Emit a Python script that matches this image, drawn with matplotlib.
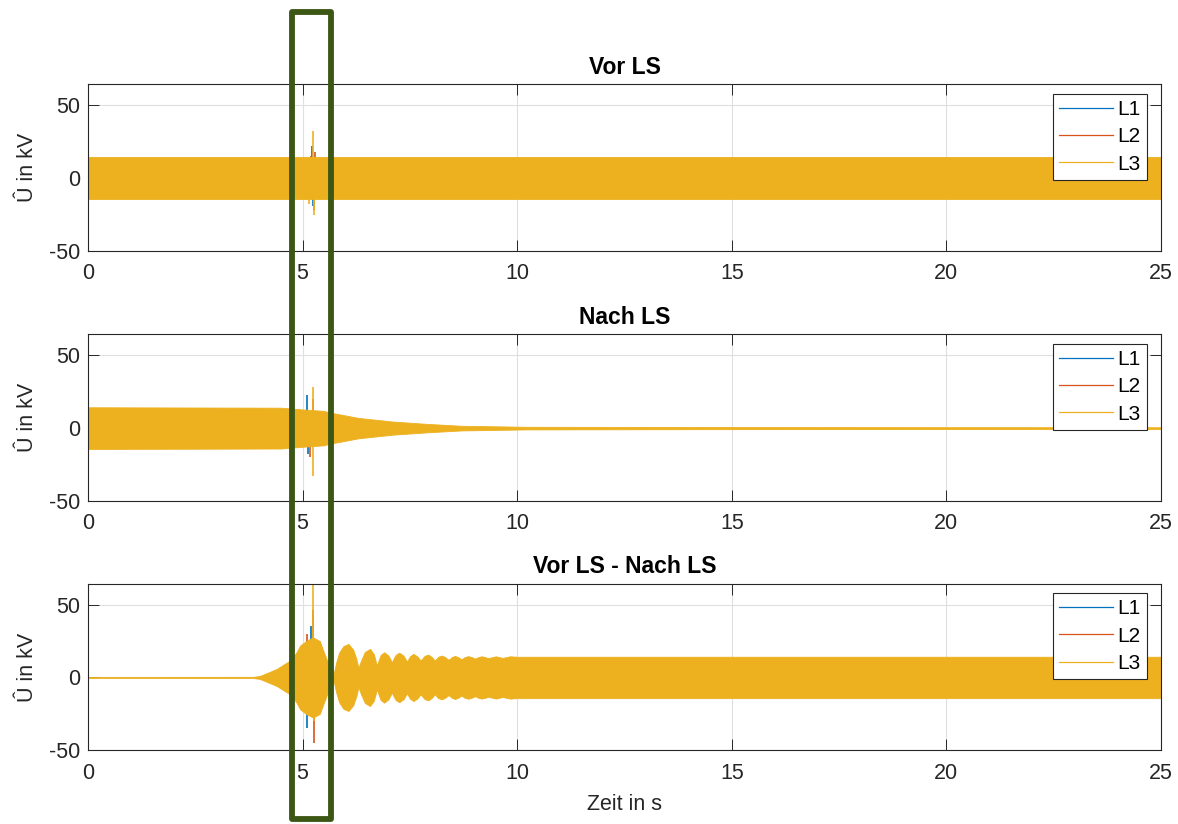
import numpy as np
import matplotlib.pyplot as plt
from matplotlib.patches import Rectangle
from matplotlib.lines import Line2D

plt.rcParams["font.family"] = ["Liberation Sans", "DejaVu Sans"]
plt.rcParams["axes.unicode_minus"] = False

# ── Daten ────────────────────────────────────────────────────────────────────
titles = ["Vor LS", "Nach LS", "Vor LS - Nach LS"]
phases = ["L1", "L2", "L3"]
colors = ["#0072BD", "#D95319", "#EDB120"]
xticks = [0, 5, 10, 15, 20, 25]
yticks = [-50, 0, 50]

# Hüllkurve (Amplitude in kV) der drei Phasen
vor_t = [0, 25]
vor_amp = [14.4, 14.4]

nach_t = [0, 4.5, 5.0, 5.5, 5.6, 6.3, 7.1, 7.9, 8.7, 10.2, 15, 25]
nach_amp = [14.3, 14.0, 12.8, 11.8, 10.9, 7.0, 4.5, 2.9, 1.6, 0.9, 0.7, 0.6]

diff_t = [0, 3.85, 4.0, 4.16, 4.4, 4.56, 4.71, 4.86, 4.94, 5.09, 5.24, 5.4,
          5.5, 5.62, 5.72, 5.78, 5.85, 5.95, 6.07, 6.18, 6.25, 6.30, 6.36,
          6.45, 6.57, 6.66, 6.73, 6.78, 6.82, 6.90, 7.0, 7.08, 7.13, 7.17,
          7.25, 7.35, 7.43, 7.5, 7.58, 7.67, 7.75, 7.84, 7.93, 8.01, 8.08,
          8.16, 8.24, 8.32, 8.40, 8.48, 8.55, 8.63, 8.70, 8.78, 8.86, 8.94,
          9.02, 9.10, 9.17, 9.25, 9.32, 9.5, 9.66, 9.83, 10.0, 25]
diff_amp = [0.3, 0.4, 1.0, 2.9, 5.9, 8.9, 11.6, 17.3, 21.8, 25.2, 27.5, 25.0,
            17.0, 8.0, 2.0, 10.0, 17.0, 21.5, 23.0, 19.0, 13.0, 6.6, 11.5,
            17.5, 19.6, 16.0, 8.2, 12.5, 15.5, 17.3, 15.0, 10.4, 13.5, 15.5,
            17.0, 15.0, 10.9, 14.5, 16.2, 14.5, 11.6, 14.8, 15.7, 14.0, 11.6,
            14.2, 15.0, 14.0, 12.1, 14.0, 14.8, 13.8, 12.5, 14.0, 14.6, 13.9,
            12.9, 14.0, 14.5, 14.0, 13.2, 14.5, 13.4, 14.5, 14.2, 14.2]

# Einzelne Spitzen (Zeit in s, Scheitelwert in kV) je Phase
spikes = [
    {"L1": ([5.10, 5.22, 5.25], [10, 22, -19]),
     "L2": ([5.20, 5.27, 5.30], [15, -22, 18]),
     "L3": ([5.15, 5.24, 5.26], [-18, 32, -25])},
    {"L1": ([5.10, 5.13], [23, -18]),
     "L2": ([5.17, 5.25], [-20, 20]),
     "L3": ([5.24, 5.25], [28, -33])},
    {"L1": ([5.10, 5.20], [-35, 35]),
     "L2": ([5.10, 5.24, 5.26], [30, 46, -45]),
     "L3": ([5.24, 5.27], [64, -30])},
]
envelopes = [(vor_t, vor_amp), (nach_t, nach_amp), (diff_t, diff_amp)]

# ── Figure & Axes ─────────────────────────────────────────────────────────────
fig = plt.figure(figsize=(11.78, 8.24), dpi=100)
bottoms = [0.6954, 0.3920, 0.0894]
axes = [fig.add_axes([0.0747, b, 0.9109, 0.2022]) for b in bottoms]

for i, ax in enumerate(axes):
    t, amp = envelopes[i]
    t = np.array(t)
    amp = np.array(amp)
    for ph, c in zip(phases, colors):
        st, sv = spikes[i][ph]
        ax.vlines(st, 0, sv, color=c, lw=1.2, zorder=1.5)
    # L3 wird zuletzt gezeichnet und überdeckt L1/L2 innerhalb des Bandes
    ax.fill_between(t, -amp, amp, color=colors[2], lw=0.6, zorder=2)

    ax.set_xlim(0, 25)
    ax.set_ylim(-50, 64.3)
    ax.set_xticks(xticks)
    ax.set_yticks(yticks)
    ax.grid(True, color="#dfdfdf", lw=0.8, zorder=0)
    ax.set_axisbelow(True)
    ax.tick_params(direction="in", length=7.7, width=0.7, top=True, right=True,
                   labelsize=15.5, colors="#262626")
    ax.tick_params(axis="x", pad=9)
    ax.tick_params(axis="y", pad=5.5)
    for s in ax.spines.values():
        s.set_color("#262626")
        s.set_linewidth(0.8)
    ax.set_title(titles[i], fontsize=16.5, fontweight="bold", pad=7.5)
    ax.set_ylabel("Û in kV", fontsize=15.5, color="#262626")
    ax.yaxis.set_label_coords(-0.0466, 0.5)

    handles = [Line2D([], [], color=c, lw=0.9, label=ph)
               for ph, c in zip(phases, colors)]
    leg = ax.legend(handles=handles, loc="upper right",
                    bbox_to_anchor=(1 - 14 / 1073, 1 - 9.5 / 167),
                    borderaxespad=0, fontsize=15, handlelength=2.6,
                    handletextpad=0.2, labelspacing=0.4, fancybox=False,
                    framealpha=1, edgecolor="#262626", borderpad=0.3)
    leg.get_frame().set_linewidth(0.8)

axes[2].set_xlabel("Zeit in s", fontsize=15.5, color="#262626")
axes[2].xaxis.set_label_coords(0.5, -0.26)

# grüne Markierung um den Schaltzeitpunkt
rect = Rectangle((292.2 / 1178, 1 - 819 / 824), (330.5 - 292.2) / 1178,
                 (819 - 12.2) / 824, transform=fig.transFigure, fill=False,
                 edgecolor="#3C5614", lw=4.2, joinstyle="round", zorder=10)
fig.add_artist(rect)

fig.savefig("out.png", dpi=100)
